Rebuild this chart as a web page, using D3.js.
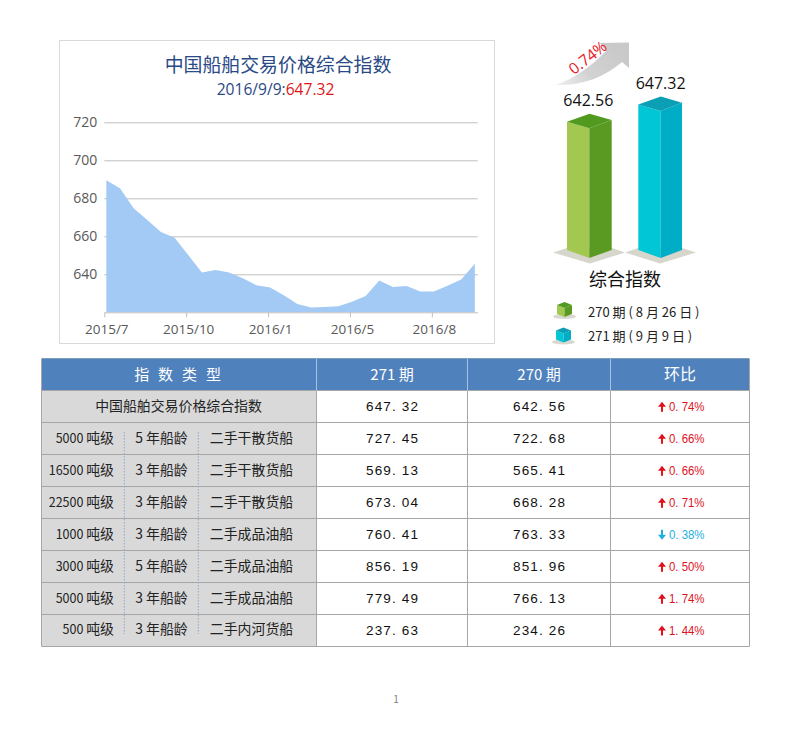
<!DOCTYPE html>
<html><head><meta charset="utf-8">
<script src="https://cdn.jsdelivr.net/npm/d3@7"></script>
<style>html,body{margin:0;padding:0;background:#fff}svg{display:block}text{font-family:"Noto Sans CJK SC","Noto Sans",sans-serif}</style>
</head><body><div id="c"></div>
<script>
const indexValues=[689.5,685.3,674.7,668.6,662.3,659.3,650.2,640.9,642.3,640.9,637.9,634.2,633,629,624.4,622.5,622.8,623.2,625.6,628.6,636.8,633.3,633.9,630.9,630.9,634,637.2,645.6];
const xTickIndex=[0,6,12,18,24];
const xTickLabels=["2015/7","2015/10","2016/1","2016/5","2016/8"];
const yTicks=[640,660,680,700,720];
const chartTitle="中国船舶交易价格综合指数";
const subDate="2016/9/9:";
const subValue="647.32";
const legendTexts=["270 期 ( 8 月 26 日 )","271 期 ( 9 月 9 日 )"];
const barValues=[642.56,647.32];
const changeText="0.74%";
const headers=["指 数 类 型","271 期","270 期","环比"];
const tonnageNum=["5000","16500","22500","1000","3000","5000","500"];
const shipAge=["5 年船龄","3 年船龄","3 年船龄","3 年船龄","5 年船龄","3 年船龄","3 年船龄"];
const shipType=["二手干散货船","二手干散货船","二手干散货船","二手成品油船","二手成品油船","二手成品油船","二手内河货船"];
const rowCurrent=[647.32,727.45,569.13,673.04,760.41,856.19,779.49,237.63];
const rowPrev=[642.56,722.68,565.41,668.28,763.33,851.96,766.13,234.26];
const rowChange=[0.74,0.66,0.66,0.71,-0.38,0.50,1.74,1.44];
const compositeName="中国船舶交易价格综合指数";

const svg=d3.select("#c").append("svg").attr("width",793).attr("height",731);
const defs=svg.append("defs");
const gr=defs.append("linearGradient").attr("id","arrowG").attr("x1","0").attr("y1","1").attr("x2","1").attr("y2","0.4");
gr.append("stop").attr("offset","0").attr("stop-color","#f0f0f0");
gr.append("stop").attr("offset","0.45").attr("stop-color","#d2d2d2");
gr.append("stop").attr("offset","1").attr("stop-color","#c9c9c9");
const latin='font-family:"Open Sans",sans-serif';

// line chart panel
svg.append("rect").attr("x",59.5).attr("y",40.5).attr("width",435).attr("height",303).attr("fill","#fff").attr("stroke","#d9d9d9");
svg.append("text").attr("x",278).attr("y",71.5).attr("text-anchor","middle").attr("font-size",18.9).attr("fill","#2a4a86").text(chartTitle);
const sub=svg.append("text").attr("x",275.5).attr("y",95).attr("text-anchor","middle").attr("font-size",15.6).attr("style",latin);
sub.append("tspan").attr("fill","#2a4a86").text(subDate);
sub.append("tspan").attr("fill","#e0161c").text(subValue);

const x=d3.scaleLinear().domain([0,27.36]).range([104.3,477.7]);
const y=d3.scaleLinear().domain([620,720]).range([312.3,122.3]);
const gy=svg.append("g").attr("transform","translate(104.3,0)")
  .call(d3.axisLeft(y).tickValues(yTicks).tickSize(-373.4).tickFormat(d3.format("d")));
gy.select(".domain").remove();
gy.selectAll("line").attr("stroke","#bfbfbf");
gy.selectAll("text").attr("x",-7).attr("font-size",14).attr("fill","#595959").attr("style",latin);
const area=d3.area().x((d,i)=>x(i+0.15)).y0(y(620)).y1(d=>y(d));
svg.append("path").datum(indexValues).attr("d",area).attr("fill","#a3caf5");
const gx=svg.append("g").attr("transform",`translate(0,${y(620)})`)
  .call(d3.axisBottom(x).tickValues(xTickIndex).tickSize(5).tickSizeOuter(0).tickFormat((d,i)=>xTickLabels[i]));
gx.select(".domain").attr("stroke","#bfbfbf");
gx.selectAll("line").attr("stroke","#bfbfbf");
gx.selectAll("text").attr("y",12).attr("font-size",13.5).attr("fill","#595959").attr("dx",2).attr("style",latin);

// 3D bars
const barY=d3.scaleLinear().domain(barValues).range([128.3,111]);
const bars=[{l:567,m:589.3,r:611.7,front:"#a2c851",side:"#5a9a22",top:"#529a1f",shadow:"M553,252.5 L567,248 L612,248 L625,252.5 L590,263.5 Z"},
            {l:638.3,m:660.7,r:682,front:"#00c6d6",side:"#00adc6",top:"#0a9fb4",shadow:"M625,252.5 L638,248 L682,248 L696,252.5 L660,263.5 Z"}];
const baseY=258, sideDrop=8;
const gb=svg.append("g");
bars.forEach((b,i)=>{
  const t=barY(barValues[i]);
  gb.append("path").attr("d",b.shadow).attr("fill","#d6d6cc");
  gb.append("path").attr("d",`M${b.l},${t-6.6} L${b.m},${t} L${b.m},${baseY} L${b.l},${baseY-sideDrop} Z`).attr("fill",b.front);
  gb.append("path").attr("d",`M${b.m},${t} L${b.r},${t-8.3} L${b.r},${baseY-sideDrop} L${b.m},${baseY} Z`).attr("fill",b.side);
  gb.append("path").attr("d",`M${b.l},${t-6.6} L${b.l+22.5},${t-14.6} L${b.r},${t-8.3} L${b.m},${t} Z`).attr("fill",b.top);
  svg.append("text").attr("x",(b.l+b.r)/2-(i?0:1)+(i?0.5:0)).attr("y",t-22).attr("text-anchor","middle").attr("font-size",16).attr("fill","#111")
    .attr("style",latin).text(barValues[i].toFixed(2));
});
// arrow
svg.append("path").attr("d","M555,85 C572,80 592,66 606,51 L600,43 L629,42.5 L629,68 L622,62 C605,77 582,86 555,85 Z").attr("fill","url(#arrowG)");
svg.append("text").attr("transform","translate(588,58) rotate(-38)").attr("text-anchor","middle").attr("y",5).attr("font-size",15.5).attr("fill","#e8202a")
  .attr("style",latin).text(changeText);
svg.append("text").attr("x",625).attr("y",286).attr("text-anchor","middle").attr("font-size",18).attr("fill","#111").text("综合指数");

// legend
const cubes=[{cx:564.5,cy:309,f:"#a2c851",s:"#5a9a22",t:"#529a1f"},{cx:563.5,cy:334.5,f:"#00c6d6",s:"#00adc6",t:"#0a9fb4"}];
cubes.forEach((c,i)=>{
  svg.append("ellipse").attr("cx",c.cx).attr("cy",c.cy+7.5).attr("rx",11.5).attr("ry",2.5).attr("fill","#d8d8d0");
  svg.append("path").attr("d",`M${c.cx-7.5},${c.cy-4} L${c.cx},${c.cy-1} L${c.cx},${c.cy+8} L${c.cx-7.5},${c.cy+5} Z`).attr("fill",c.f);
  svg.append("path").attr("d",`M${c.cx},${c.cy-1} L${c.cx+7.5},${c.cy-4} L${c.cx+7.5},${c.cy+5} L${c.cx},${c.cy+8} Z`).attr("fill",c.s);
  svg.append("path").attr("d",`M${c.cx-7.5},${c.cy-4} L${c.cx},${c.cy-7} L${c.cx+7.5},${c.cy-4} L${c.cx},${c.cy-1} Z`).attr("fill",c.t);
});
[317,341].forEach((ty,i)=>svg.append("text").attr("x",588).attr("y",ty).attr("font-size",13).attr("fill","#222").text(legendTexts[i]));

// table
const colX=[41.5,316.5,467.5,610.5,749.5];
const rowY=[359,391,423,455,487,519,551,583,615,646.5];
const t=svg.append("g");
t.append("rect").attr("x",colX[0]).attr("y",rowY[0]).attr("width",colX[4]-colX[0]).attr("height",rowY[1]-rowY[0]).attr("fill","#4f81bd");
t.append("rect").attr("x",colX[0]).attr("y",rowY[1]).attr("width",colX[1]-colX[0]).attr("height",rowY[9]-rowY[1]).attr("fill","#d9d9d9");
rowY.forEach((ry,i)=>{
  t.append("line").attr("x1",colX[0]).attr("x2",colX[4]).attr("y1",Math.round(ry)-.5).attr("y2",Math.round(ry)-.5).attr("stroke",i==0?"#7f9db9":"#a6a6a6");
});
colX.forEach(cx=>t.append("line").attr("x1",cx).attr("x2",cx).attr("y1",rowY[0]).attr("y2",rowY[9]).attr("stroke","#a6a6a6"));
colX.slice(1,4).forEach(cx=>t.append("line").attr("x1",cx).attr("x2",cx).attr("y1",rowY[0]).attr("y2",rowY[1]).attr("stroke","#a9c0dc"));
const hc=[(colX[0]+colX[1])/2,(colX[1]+colX[2])/2,(colX[2]+colX[3])/2,(colX[3]+colX[4])/2];
headers.forEach((h,i)=>{
  t.append("text").attr("x",hc[i]).attr("y",380).attr("text-anchor","middle").attr("font-size",i==3?16:15).attr("letter-spacing",i==0?2.8:0).attr("fill","#fff").text(h);
});
const sans='font-family:"Liberation Sans",sans-serif';
rowCurrent.forEach((v,i)=>{
  const by=(rowY[i+1]+rowY[i+2])/2+3.5;
  const ty=by+0.2;
  if(i===0){
    t.append("text").attr("x",178.5).attr("y",ty).attr("text-anchor","middle").attr("font-size",13.9).attr("fill","#222").text(compositeName);
  } else {
    const ton=t.append("text").attr("x",114).attr("y",ty).attr("text-anchor","end").attr("font-size",13.9).attr("fill","#222");
    ton.append("tspan").attr("font-size",12.5).text(tonnageNum[i-1]+" ");
    ton.append("tspan").text("吨级");
    t.append("text").attr("x",161.5).attr("y",ty).attr("text-anchor","middle").attr("font-size",13.9).attr("fill","#222").text(shipAge[i-1]);
    t.append("text").attr("x",251.5).attr("y",ty).attr("text-anchor","middle").attr("font-size",13.9).attr("fill","#222").text(shipType[i-1]);
  }
  [[hc[1],v],[hc[2],rowPrev[i]]].forEach(([cx,val])=>{
    t.append("text").attr("x",cx).attr("y",ty+0.5).attr("text-anchor","middle").attr("font-size",13.5).attr("fill","#111").attr("style",sans)
      .attr("textLength",52).attr("lengthAdjust","spacing").text(val.toFixed(2).replace(".",". "));
  });
  const c=rowChange[i], col=c>=0?"#e0101c":"#1cb0e0";
  const ax=662, ymid=by-3.8;
  const dir=c>=0?-1:1;
  t.append("path").attr("d",`M${ax-1},${ymid-dir*5} L${ax+1},${ymid-dir*5} L${ax+1},${ymid} L${ax+4},${ymid} L${ax},${ymid+dir*5} L${ax-4},${ymid} L${ax-1},${ymid} Z`).attr("fill",col);
  t.append("text").attr("x",669).attr("y",ty+0.5).attr("font-size",13.5).attr("fill",col).attr("style",sans).attr("textLength",35.5).attr("lengthAdjust","spacingAndGlyphs").text(Math.abs(c).toFixed(2).replace(".",". ")+"%");
});
[124.3,198.3].forEach(dx=>t.append("line").attr("x1",dx).attr("x2",dx).attr("y1",432).attr("y2",634).attr("stroke","#8fa9c4").attr("stroke-dasharray","1.5 1.5"));
svg.append("text").attr("x",396).attr("y",703).attr("text-anchor","middle").attr("font-size",10).attr("fill","#7f7f7f").text("1");
</script></body></html>
